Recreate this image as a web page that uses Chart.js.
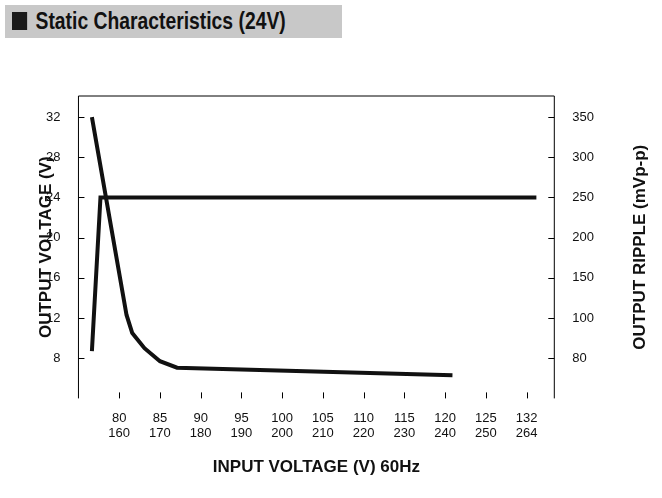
<!DOCTYPE html>
<html><head><meta charset="utf-8">
<script src="https://cdn.jsdelivr.net/npm/chart.js@4/dist/chart.umd.min.js"></script>
<style>
body{margin:0;background:#fff;font-family:"Liberation Sans",Arial,sans-serif;}
#head{position:absolute;left:5px;top:5px;width:337px;height:33px;background:#c8c8c8;color:#111;overflow:hidden;}
#head div{position:absolute;left:7px;top:0;font-weight:bold;font-size:23px;line-height:33px;white-space:nowrap;transform:scaleX(0.84);transform-origin:0 50%;}
#head span{display:inline-block;width:18px;height:18px;background:#1a1a1a;margin-right:10px;vertical-align:-1px;}
#wrap{position:absolute;left:0;top:60px;width:662px;height:438px;}
</style></head><body>
<div id="head"><div><span></span>Static Characteristics (24V)</div></div>
<div id="wrap"><canvas id="c"></canvas></div>
<script>
// x ticks (tick 130 is labelled 132/264 as in the source)
const xTicks = [80, 85, 90, 95, 100, 105, 110, 115, 120, 125, 130];
const xLabels115 = ['80','85','90','95','100','105','110','115','120','125','132'];
const xLabels230 = ['160','170','180','190','200','210','220','230','240','250','264'];
const vTicks = [8, 12, 16, 20, 24, 28, 32];
const rippleLabels = ['80','100','150','200','250','300','350'];

const voltX = [76.65, 77.7, 131.2];
const voltY = [8.7, 24, 24];
const rippleX = [76.65, 80.9, 81.6, 83.1, 85, 87.1, 120.9];
const rippleY = [350, 103.8, 92.5, 85, 78.5, 75.3, 71.5];

// ripple axis is not linear: map mVp-p to left-axis position
function rippleToLeft(mv){
  if (mv >= 100) return 12 + (mv - 100) / 12.5;
  return 8 + (mv - 80) / 5;
}

const inTicks = {
  id:'inTicks',
  afterDraw(ch){
    const c = ch.ctx, a = ch.chartArea, x = ch.scales.x, y = ch.scales.y;
    c.save(); c.strokeStyle='#000'; c.lineWidth=1;
    c.beginPath();
    c.moveTo(a.left, a.bottom); c.lineTo(a.left, a.top); c.lineTo(a.right, a.top); c.lineTo(a.right, a.bottom);
    xTicks.forEach(v => { const px = Math.round(x.getPixelForValue(v))+0.5; c.moveTo(px, a.bottom); c.lineTo(px, a.bottom-6); });
    vTicks.forEach(v => { const py = Math.round(y.getPixelForValue(v))+0.5;
      c.moveTo(a.left, py); c.lineTo(a.left+6, py); c.moveTo(a.right, py); c.lineTo(a.right-6, py); });
    c.stroke();
    // right axis title, reading bottom to top like the left one
    c.fillStyle='#111'; c.font='bold 17px "Liberation Sans", Arial';
    c.translate(640, (a.top+a.bottom)/2); c.rotate(-Math.PI/2);
    c.textAlign='center'; c.textBaseline='middle';
    c.fillText('OUTPUT RIPPLE (mVp-p)', 0, 0);
    c.restore();
  }
};

const fnt = {family:'"Liberation Sans", Arial', size:13};
const tfnt = {family:'"Liberation Sans", Arial', size:17, weight:'bold'};

new Chart(document.getElementById('c'), {
  type:'line',
  data:{datasets:[
    {data: voltX.map((v,i)=>({x:v, y:voltY[i]})), borderColor:'#111', borderWidth:4, pointRadius:0, tension:0},
    {data: rippleX.map((v,i)=>({x:v, y:rippleToLeft(rippleY[i])})), borderColor:'#111', borderWidth:4, pointRadius:0, tension:0}
  ]},
  plugins:[inTicks],
  options:{
    responsive:true, maintainAspectRatio:false, animation:false,
    layout:{padding:{left:36, right:58, top:36, bottom:16}},
    plugins:{legend:{display:false}, tooltip:{enabled:false}},
    scales:{
      x:{type:'linear', min:75, max:133.4, grid:{display:false}, border:{display:false},
         afterBuildTicks(s){ s.ticks = xTicks.map(v=>({value:v})); },
         ticks:{color:'#111', font:fnt, maxRotation:0, padding:4, autoSkip:false,
           callback:(v)=>{ const i = xTicks.indexOf(v); return [xLabels115[i], xLabels230[i]]; }},
         title:{display:true, text:'INPUT VOLTAGE (V) 60Hz', color:'#111', font:tfnt, padding:{top:12}}},
      y:{min:4, max:34.1, grid:{display:false}, border:{display:false},
         afterBuildTicks(s){ s.ticks = vTicks.map(v=>({value:v})); },
         ticks:{color:'#111', font:fnt, padding:10},
         title:{display:false}},
      y2:{position:'right', min:4, max:34.1, grid:{display:false}, border:{display:false},
         afterBuildTicks(s){ s.ticks = vTicks.map(v=>({value:v})); },
         ticks:{color:'#111', font:fnt, padding:10, callback:(v)=>rippleLabels[vTicks.indexOf(v)]}}
    }
  }
});
// left axis title drawn as an overlay so it sits where the source has it
Chart.register({id:'leftTitle', afterDraw(ch){
  const c = ch.ctx, a = ch.chartArea;
  c.save(); c.fillStyle='#111'; c.font='bold 17px "Liberation Sans", Arial';
  c.translate(46, (a.top+a.bottom)/2); c.rotate(-Math.PI/2);
  c.textAlign='center'; c.textBaseline='middle';
  c.fillText('OUTPUT VOLTAGE (V)', 0, 0); c.restore();
}});
Chart.getChart('c').update();
</script></body></html>
